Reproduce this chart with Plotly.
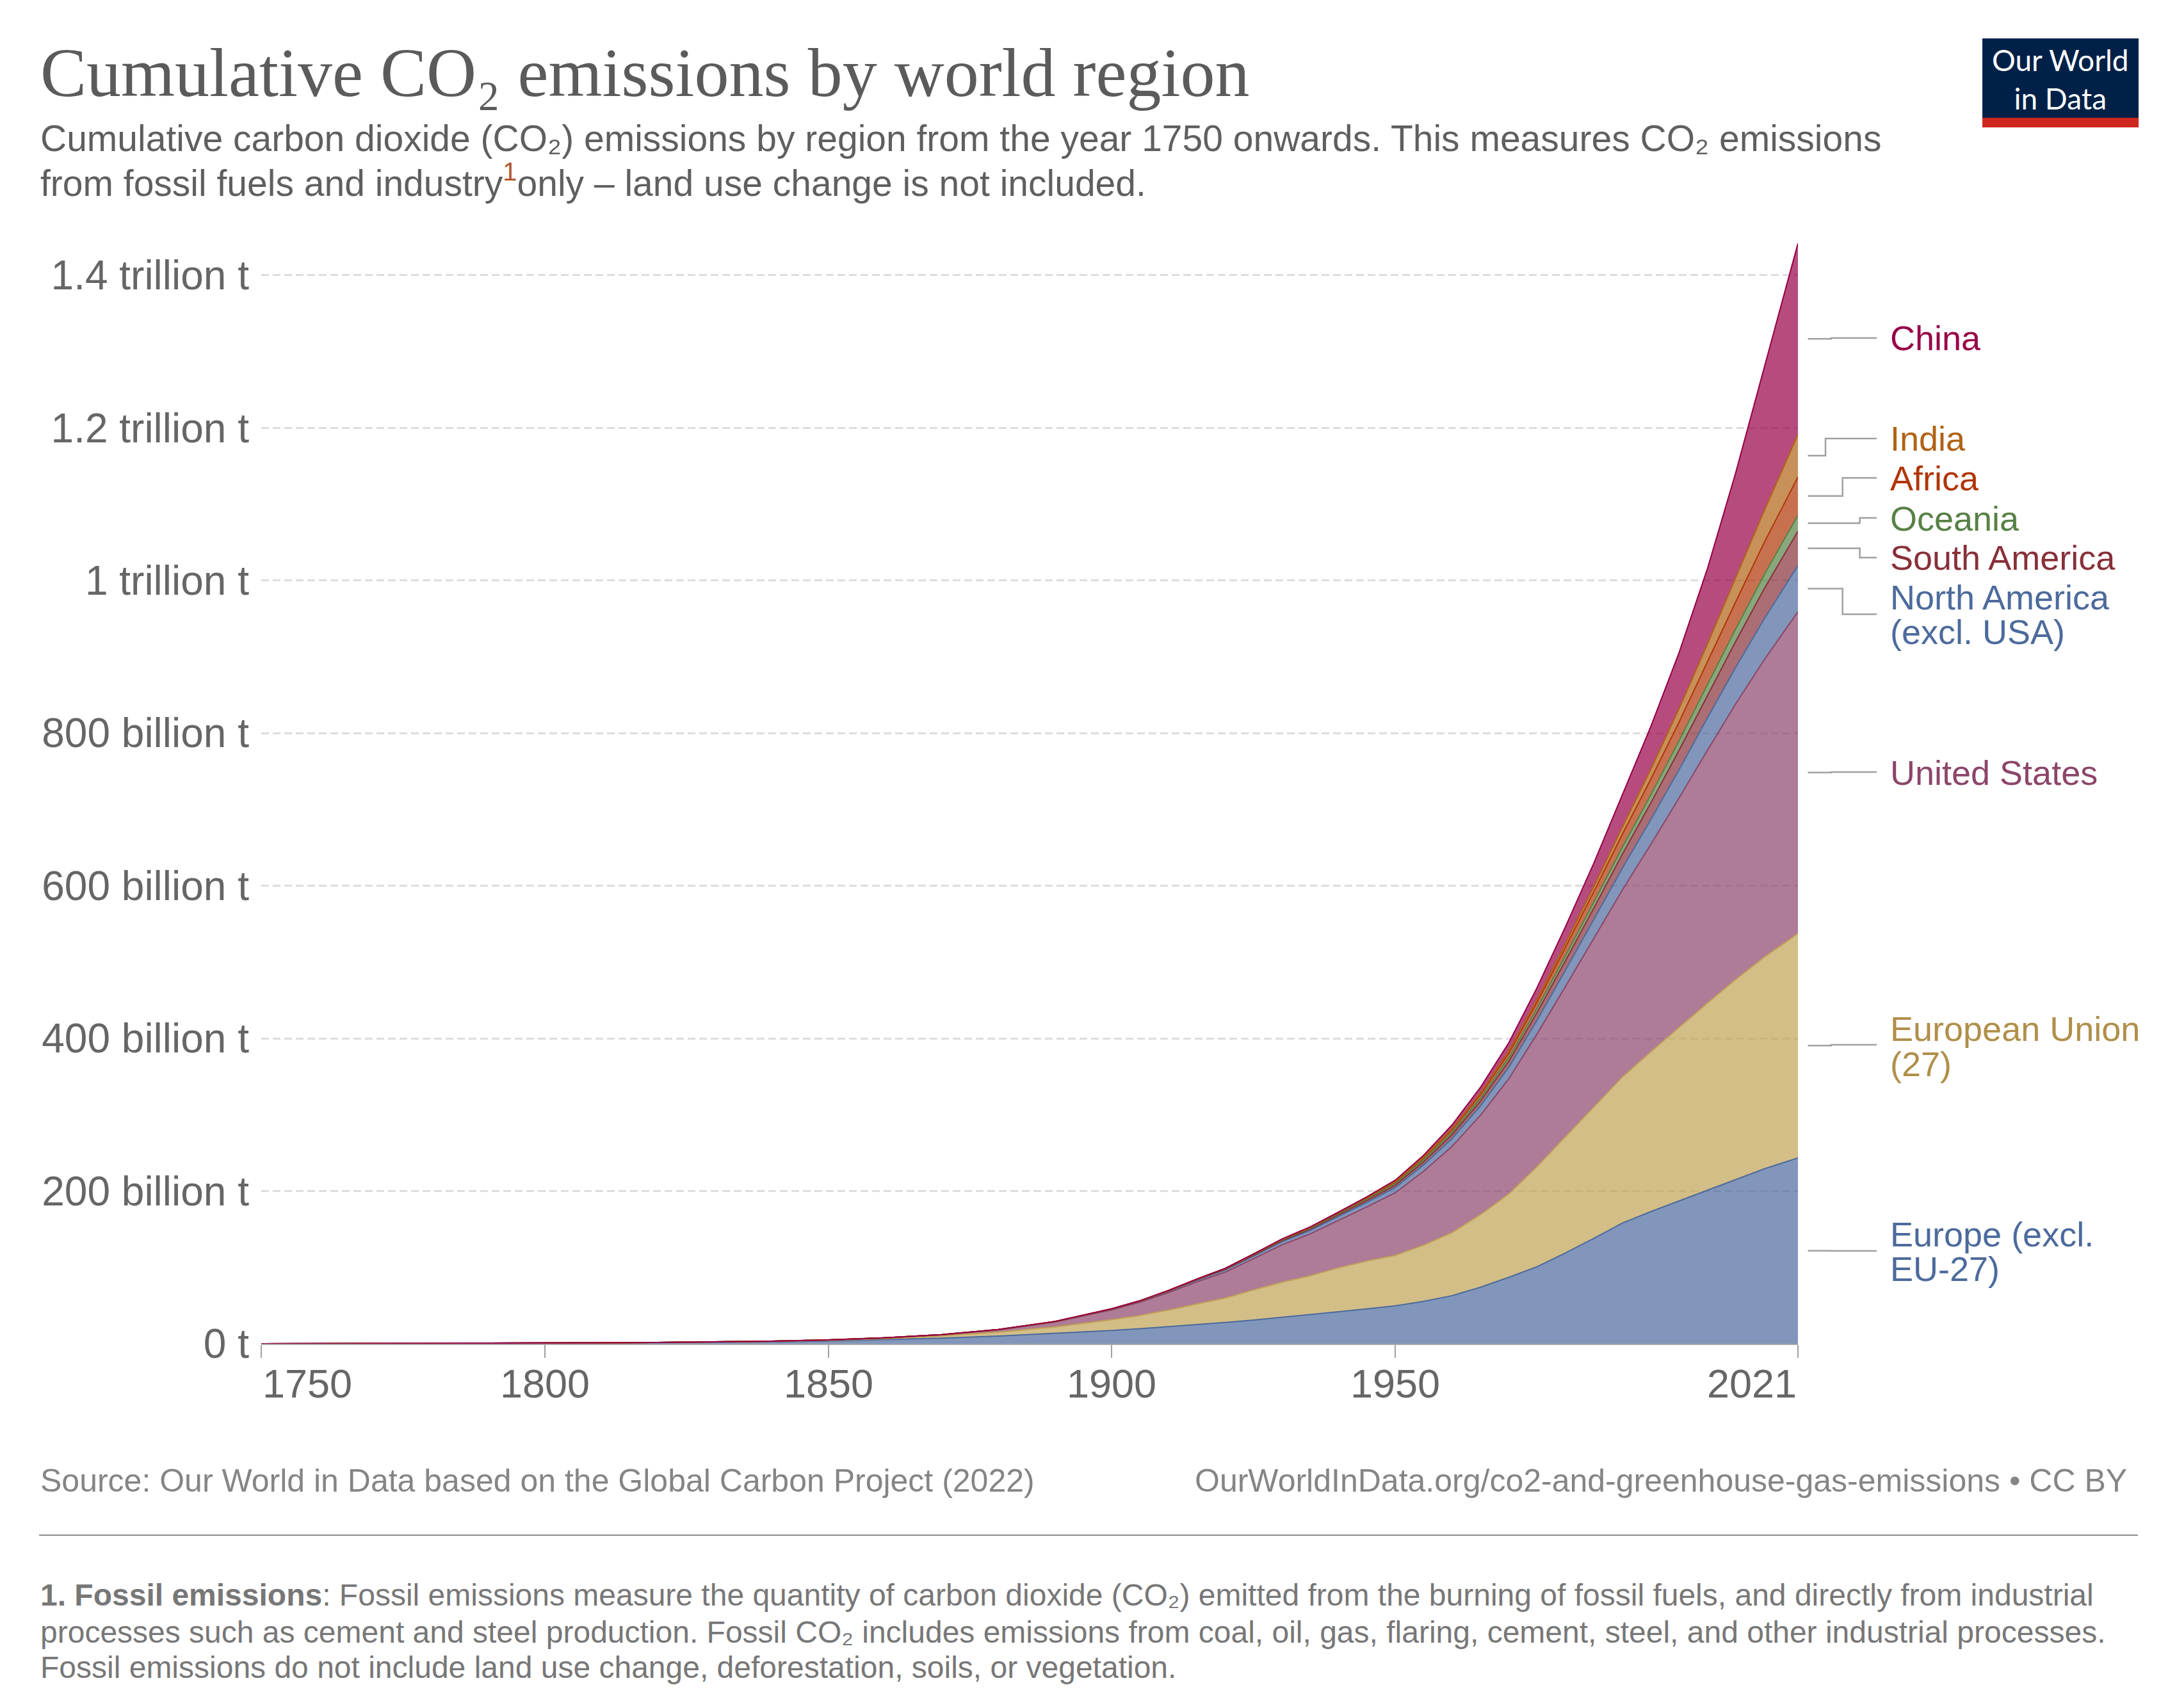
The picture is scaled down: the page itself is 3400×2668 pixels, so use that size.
import plotly.graph_objects as go

# ---------------- data (billion tonnes, cumulative) ----------------
years = [1750, 1760, 1770, 1780, 1790, 1800, 1810, 1820, 1830, 1840, 1850, 1860, 1870, 1880, 1890,
         1900, 1905, 1910, 1915, 1920, 1925, 1930, 1935, 1940, 1945, 1950, 1955, 1960, 1965, 1970,
         1975, 1980, 1985, 1990, 1995, 2000, 2005, 2010, 2015, 2020, 2021]

europe_excl_eu = [0.01, 0.1, 0.2, 0.35, 0.5, 0.75, 1.0, 1.4, 1.9, 2.6, 3.6, 5.2, 7.3, 10.0, 13.5,
                  17.5, 19.8, 22.3, 25.0, 27.8, 31.0, 34.5, 38.0, 42.0, 45.8, 49.7, 55.5, 63, 74, 87,
                  101, 119, 138, 158, 173, 187, 201, 215, 229, 241, 243.5]
eu27 = [0.0, 0.01, 0.02, 0.04, 0.06, 0.09, 0.13, 0.2, 0.3, 0.5, 0.9, 1.6, 3.0, 5.2, 8.6,
        13.9, 17.2, 21.8, 27.0, 32.0, 39.5, 46, 51, 57.5, 62.5, 66, 73.5, 82.5, 95, 109,
        131, 152, 172, 191, 209, 227, 245, 262, 277, 291, 294]
united_states = [0, 0, 0, 0, 0.01, 0.02, 0.04, 0.07, 0.12, 0.2, 0.4, 0.8, 1.5, 3.0, 6.4,
                 13.0, 17.5, 23.0, 29.0, 34.0, 41.0, 49.0, 55.0, 62.0, 71.0, 82.0, 97.0, 113.0, 130.0, 151.0,
                 174, 197, 220.5, 245, 271.5, 300.5, 331, 361, 389.5, 416.5, 421.5]
north_america = [0, 0, 0, 0, 0, 0, 0, 0, 0.01, 0.02, 0.04, 0.08, 0.15, 0.28, 0.5,
                 0.9, 1.2, 1.7, 2.3, 2.9, 3.5, 4.1, 4.6, 5.2, 6.0, 7.0, 8.5, 10.3, 12.4, 15.0,
                 18.0, 21.3, 24.8, 28.5, 32.5, 37.0, 42.3, 47.8, 53.5, 59.2, 60.5]
south_america = [0, 0, 0, 0, 0, 0, 0, 0, 0, 0, 0, 0.01, 0.02, 0.04, 0.08,
                 0.15, 0.22, 0.35, 0.5, 0.7, 0.95, 1.25, 1.55, 1.95, 2.4, 3.0, 3.9, 5.0, 6.3, 7.9,
                 9.9, 12.5, 15.3, 18.3, 21.7, 25.5, 29.5, 34.0, 39.3, 44.0, 45.0]
oceania = [0, 0, 0, 0, 0, 0, 0, 0, 0, 0, 0.005, 0.01, 0.02, 0.05, 0.12,
           0.25, 0.33, 0.45, 0.6, 0.75, 0.95, 1.2, 1.4, 1.7, 2.0, 2.3, 2.7, 3.2, 3.8, 4.6,
           5.5, 6.6, 7.8, 9.1, 10.6, 12.3, 14.2, 16.3, 18.5, 20.6, 21.0]
africa = [0, 0, 0, 0, 0, 0, 0, 0, 0, 0, 0, 0, 0, 0.01, 0.02,
          0.05, 0.08, 0.12, 0.18, 0.25, 0.35, 0.5, 0.7, 1.0, 1.4, 1.9, 2.6, 3.5, 4.7, 6.3,
          8.3, 10.8, 13.8, 17.0, 20.5, 24.5, 29.5, 35.5, 42.0, 48.6, 50.0]
india = [0, 0, 0, 0, 0, 0, 0, 0, 0, 0, 0, 0, 0.005, 0.01, 0.03,
         0.05, 0.07, 0.1, 0.14, 0.18, 0.23, 0.3, 0.38, 0.5, 0.64, 0.8, 1.0, 1.4, 1.9, 2.6,
         3.5, 4.8, 6.6, 9.2, 12.8, 17.5, 23.5, 31.5, 41.5, 53.3, 56.0]
china = [0, 0, 0, 0, 0, 0, 0, 0, 0, 0, 0, 0, 0, 0, 0,
         0.05, 0.07, 0.1, 0.14, 0.2, 0.26, 0.4, 0.55, 0.7, 0.9, 1.6, 2.3, 4.7, 7.6, 10.7,
         15.4, 22.3, 30.7, 41.7, 55.9, 73.2, 98.4, 137.2, 186, 238, 250]

series_names = ["Europe (excl. EU-27)", "European Union (27)", "United States", "North America (excl. USA)",
                "South America", "Oceania", "Africa", "India", "China"]
series_values = [europe_excl_eu, eu27, united_states, north_america, south_america, oceania, africa, india, china]
series_rgb = [(76, 106, 156), (193, 162, 86), (140, 69, 105), (76, 106, 156),
              (136, 48, 57), (87, 129, 69), (177, 53, 7), (177, 98, 20), (151, 0, 70)]
label_colors = ["#4C6A9C", "#B08F4A", "#8C4569", "#4C6A9C", "#883039", "#578145", "#B13507", "#B16214", "#970046"]
label_lines = [["Europe (excl.", "EU-27)"], ["European Union", "(27)"], ["United States"],
               ["North America", "(excl. USA)"], ["South America"], ["Oceania"], ["Africa"], ["India"], ["China"]]

y_tickvals = [0, 200, 400, 600, 800, 1000, 1200, 1400]
y_ticktext = ["0 t", "200 billion t", "400 billion t", "600 billion t", "800 billion t",
              "1 trillion t", "1.2 trillion t", "1.4 trillion t"]
x_tickvals = [1750, 1800, 1850, 1900, 1950, 2021]
x_ticktext = ["1750", "1800", "1850", "1900", "1950", "2021"]

# ---------------- geometry ----------------
W, H = 3400, 2668
OFF = 8  # page body margin
L, T = 400, 362
PW, PH = 2400, 1729
R = W - L - PW
B = H - T - PH
YMAX = 1450


def pxx(px):
    return (px - OFF - L) / PW


def pxy(py):
    return (T + PH - (py - OFF)) / PH


def py_to_val(py):
    return pxy(py) * YMAX


fig = go.Figure()
for name, vals, rgb in zip(series_names, series_values, series_rgb):
    fig.add_trace(go.Scatter(
        x=years, y=vals, name=name, mode="lines", stackgroup="one",
        line=dict(color="rgb(%d,%d,%d)" % rgb, width=2),
        fillcolor="rgba(%d,%d,%d,0.7)" % rgb,
        hoverinfo="skip", showlegend=False,
    ))

FONT = "Liberation Sans, Arial, sans-serif"

fig.update_layout(
    width=W, height=H,
    margin=dict(l=L, r=R, t=T, b=B),
    paper_bgcolor="white", plot_bgcolor="white",
    showlegend=False,
    font=dict(family=FONT, color="#666666"),
    xaxis=dict(range=[1750, 2021], tickvals=x_tickvals, showticklabels=False,
               showgrid=False, zeroline=False, showline=True, linecolor="#a8a8a8", linewidth=2,
               ticks="outside", ticklen=20, tickwidth=2, tickcolor="#a0a0a0"),
    yaxis=dict(range=[0, YMAX], tickvals=y_tickvals, ticktext=y_ticktext,
               showgrid=True, gridcolor="#dddddd", gridwidth=3, griddash="12px,6px",
               zeroline=False, showline=False, ticks="",
               tickfont=dict(size=64, color="#666666", family=FONT), ticklabelstandoff=18),
)

ann = []
shapes = []

# x tick labels (edge labels aligned inward like the original)
for v, t in zip(x_tickvals, x_ticktext):
    anchor = "left" if v == x_tickvals[0] else ("right" if v == x_tickvals[-1] else "center")
    ann.append(dict(x=v, y=pxy(2161), xref="x", yref="paper", text=t, showarrow=False,
                    xanchor=anchor, yanchor="middle", font=dict(size=63, color="#666666", family=FONT)))

# title & subtitle
ann.append(dict(x=pxx(61), y=pxy(113), xref="paper", yref="paper", showarrow=False, xanchor="left",
                yanchor="middle", text="Cumulative CO₂ emissions by world region",
                font=dict(size=108, color="#5b5b5b", family="Liberation Serif, DejaVu Serif, serif")))
ann.append(dict(x=pxx(61), y=pxy(216), xref="paper", yref="paper", showarrow=False, xanchor="left",
                yanchor="middle",
                text="Cumulative carbon dioxide (CO₂) emissions by region from the year 1750 onwards. This measures CO₂ emissions",
                font=dict(size=57, color="#5f5f5f", family=FONT)))
ann.append(dict(x=pxx(61), y=pxy(282), xref="paper", yref="paper", showarrow=False, xanchor="left",
                yanchor="middle",
                text="from fossil fuels and industry<sup><span style='color:#b0572a'>1</span></sup>only – land use change is not included.",
                font=dict(size=57, color="#5f5f5f", family=FONT)))

# logo
shapes.append(dict(type="rect", xref="paper", yref="paper", x0=pxx(3096), x1=pxx(3340), y0=pxy(184), y1=pxy(60),
                   fillcolor="#002147", line=dict(width=0)))
shapes.append(dict(type="rect", xref="paper", yref="paper", x0=pxx(3096), x1=pxx(3340), y0=pxy(199), y1=pxy(184),
                   fillcolor="#CE261E", line=dict(width=0)))
ann.append(dict(x=pxx(3218), y=pxy(123), xref="paper", yref="paper", showarrow=False, xanchor="center",
                yanchor="middle", text="Our World<br>in Data",
                font=dict(size=46, color="white", family="Lato, sans-serif")))

# footer
ann.append(dict(x=pxx(61), y=pxy(2313), xref="paper", yref="paper", showarrow=False, xanchor="left",
                yanchor="middle", text="Source: Our World in Data based on the Global Carbon Project (2022)",
                font=dict(size=50, color="#858585", family=FONT)))
ann.append(dict(x=pxx(3324), y=pxy(2313), xref="paper", yref="paper", showarrow=False, xanchor="right",
                yanchor="middle", text="OurWorldInData.org/co2-and-greenhouse-gas-emissions • CC BY",
                font=dict(size=50, color="#858585", family=FONT)))
shapes.append(dict(type="line", xref="paper", yref="paper", x0=pxx(61), x1=pxx(3339), y0=pxy(2398), y1=pxy(2398),
                   line=dict(color="#8a8a8a", width=2)))
foot = [
    "<b>1. Fossil emissions</b>: Fossil emissions measure the quantity of carbon dioxide (CO₂) emitted from the burning of fossil fuels, and directly from industrial",
    "processes such as cement and steel production. Fossil CO₂ includes emissions from coal, oil, gas, flaring, cement, steel, and other industrial processes.",
    "Fossil emissions do not include land use change, deforestation, soils, or vegetation.",
]
for txt, yy in zip(foot, [2491, 2549, 2604]):
    ann.append(dict(x=pxx(61), y=pxy(yy), xref="paper", yref="paper", showarrow=False, xanchor="left",
                    yanchor="middle", text=txt, font=dict(size=48, color="#777777", family=FONT)))

# right-side labels with connectors
label_y_px = [[1928, 1982], [1607, 1662], [1207], [933, 987.5], [870.5], [810], [747], [685], [528]]
conn_end_px = [1954, 1632, 1206, 959.4, 871, 809, 746.5, 685, 528]
step_px = [2860, 2860, 2860, 2877.7, 2904.6, 2904.6, 2877.7, 2851, 2860]

bottom = 0.0
for i, vals in enumerate(series_values):
    top = bottom + vals[-1]
    mid = (bottom + top) / 2
    bottom = top
    end_val = py_to_val(conn_end_px[i])
    x0, xs, x1 = pxx(2823.5), pxx(step_px[i]), pxx(2931)
    shapes.append(dict(type="path", xref="paper", yref="y",
                       path="M %f,%f L %f,%f L %f,%f L %f,%f" % (x0, mid, xs, mid, xs, end_val, x1, end_val),
                       line=dict(color="#a0a0a0", width=2.5)))
    for line_txt, ly in zip(label_lines[i], label_y_px[i]):
        ann.append(dict(x=pxx(2950), y=pxy(ly), xref="paper", yref="paper", showarrow=False, xanchor="left",
                        yanchor="middle", text=line_txt, font=dict(size=54, color=label_colors[i], family=FONT)))

fig.update_layout(annotations=ann, shapes=shapes)
fig.write_html("out.html")
